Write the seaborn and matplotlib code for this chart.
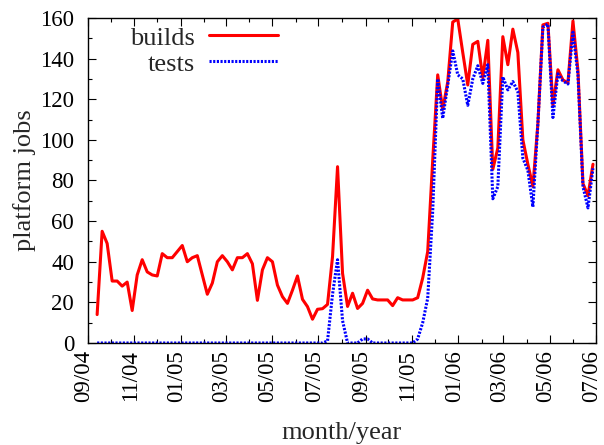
import pandas as pd
import seaborn as sns
import matplotlib
matplotlib.use("Agg")
import matplotlib.pyplot as plt
import matplotlib.dates as mdates
import matplotlib.transforms as mtransforms

# first and last sample dates (samples are evenly spaced between them)
first_day = "2004-09-13"
last_day = "2006-06-27"

# platform jobs per sample
builds = [14, 55, 49, 30.5, 30.5, 28, 30, 16, 33.5, 41,
          35, 33.5, 33, 44, 42, 42, 45, 48, 40, 42,
          43, 33.5, 24, 29.5, 40, 43, 40, 36, 42, 42,
          44, 39, 21, 36, 42, 40, 28.5, 22.8, 19.5, 26,
          33, 21.5, 17.9, 11.7, 16.6, 16.9, 19, 42.5, 86.8, 34.3,
          18, 24.5, 17, 19.5, 26, 21.7, 21.2, 21.2, 21.2, 18.4,
          22.3, 21.2, 21.2, 21.2, 22.3, 32, 45, 90, 132, 115,
          128.5, 158, 159.5, 143, 127, 147, 148.5, 130.5, 149, 85.5,
          96, 150.8, 137, 154.5, 143, 100, 88, 77, 108, 156.6,
          157.4, 117, 134.5, 129.5, 128, 158.5, 134, 78.5, 72.5, 88]

tests = [0] * 46 + [1, 24, 41, 11,
         0, 0, 0, 2, 2, 0, 0, 0, 0, 0,
         0, 0, 0, 0, 2, 10, 22, 65, 130, 110.6,
         127, 143.8, 132, 130, 117, 130, 136.5, 127.8, 137, 71,
         77, 131, 124.6, 128.7, 123.7, 91, 85, 67, 108, 155.5,
         157, 111, 132.5, 129, 127.5, 153, 132, 77, 66.5, 86]

dates = pd.date_range(first_day, last_day, periods=len(builds))
df = pd.DataFrame({"date": dates, "builds": builds, "tests": tests})

sns.set_style("ticks")
plt.rcParams['font.family'] = ['Liberation Serif', 'DejaVu Serif']

fig, ax = plt.subplots(figsize=(6.04, 4.45), dpi=100)
fig.subplots_adjust(left=0.1457, right=0.9868, top=0.9596, bottom=0.2292)

sns.lineplot(data=df, x="date", y="builds", ax=ax, color="#ff0000",
             linewidth=2.2, label="builds")
sns.lineplot(data=df, x="date", y="tests", ax=ax, color="#0000ff",
             linewidth=2.2, label="tests")
ax.lines[1].set_dashes((0.7, 0.5))

ax.set_xlim(pd.Timestamp("2004-09-01"), pd.Timestamp("2006-07-01"))
ax.set_ylim(0, 160)
ax.xaxis.set_major_locator(mdates.MonthLocator(bymonth=[1, 3, 5, 7, 9, 11]))
ax.xaxis.set_minor_locator(mdates.MonthLocator())
ax.xaxis.set_major_formatter(mdates.DateFormatter("%m/%y"))
ax.yaxis.set_major_locator(plt.MultipleLocator(20))
ax.yaxis.set_minor_locator(plt.MultipleLocator(10))

ax.tick_params(which="both", direction="in", top=True, right=True,
               width=0.8, colors="black", labelsize=16.5)
ax.tick_params(which="major", length=6)
ax.tick_params(which="minor", length=3)
ax.tick_params(axis="y", pad=10)
ax.tick_params(axis="x", pad=5)
# gnuplot puts the rotated labels a little left of their ticks
shift = mtransforms.ScaledTranslation(-4 / 100, 0, fig.dpi_scale_trans)
for lab in ax.get_xticklabels():
    lab.set_rotation(90)
    lab.set_transform(lab.get_transform() + shift)
for s in ax.spines.values():
    s.set_linewidth(1.0)
    s.set_color("black")

ax.set_xlabel("month/year", fontsize=19, labelpad=14)
ax.set_ylabel("platform jobs", fontsize=19, labelpad=3)

ax.legend(loc="upper right", bbox_to_anchor=(0.415, 1.04), frameon=False,
          markerfirst=False, fontsize=19, handlelength=2.6,
          handletextpad=0.55, labelspacing=0.1, borderpad=0.3)

fig.savefig("out.png", dpi=100)
